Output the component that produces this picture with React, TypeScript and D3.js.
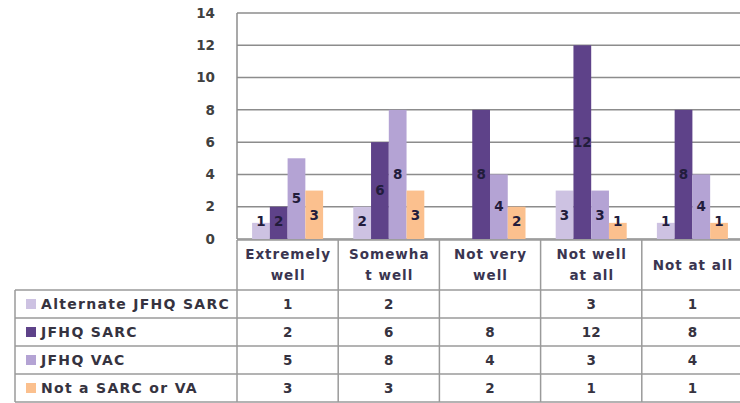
import React from "react";
import * as d3 from "d3";

const categories = ["Extremely well", "Somewhat well", "Not very well", "Not well at all", "Not at all"];
const headerLines = [["Extremely", "well"], ["Somewha", "t well"], ["Not very", "well"], ["Not well", "at all"], ["Not at all"]];
const seriesNames = ["Alternate JFHQ SARC", "JFHQ SARC", "JFHQ VAC", "Not a SARC or VA"];
const alternateJfhqSarc: (number | null)[] = [1, 2, null, 3, 1];
const jfhqSarc: (number | null)[] = [2, 6, 8, 12, 8];
const jfhqVac: (number | null)[] = [5, 8, 4, 3, 4];
const notSarcOrVa: (number | null)[] = [3, 3, 2, 1, 1];
const yTicks = [0, 2, 4, 6, 8, 10, 12, 14];

const seriesValues = [alternateJfhqSarc, jfhqSarc, jfhqVac, notSarcOrVa];
const colors = ["#cdc2e2", "#5e4289", "#b4a3d4", "#fbc08e"];

const FONT = "'DejaVu Sans', Lato, sans-serif";

export default function App() {
  const W = 740, H = 403;
  const plotLeft = 237, plotRight = 743;
  const yTop = 13, yBottom = 239;
  const legendLeft = 15;
  const headerTop = 240, headerBottom = 290, rowH = 28;

  const x0 = d3.scaleBand<string>().domain(categories).range([plotLeft, plotRight]).padding(0);
  const x1 = d3.scaleBand<string>().domain(seriesNames).range([0, x0.bandwidth()]).paddingInner(0).paddingOuter(0.85);
  const y = d3.scaleLinear().domain([0, 14]).range([yBottom, yTop]);

  const gridColor = "#8c8c8c";
  const tableColor = "#9a9a9a";
  const textColor = "#363340";

  const rowsBottom = headerBottom + rowH * seriesNames.length;
  const numFS = 13.5;
  const headFS = 13.5;
  const headLS = 1;
  const legFS = 14;
  const legLS = 1.3;

  return (
    <svg width={W} height={H} style={{ position: "absolute", left: 0, top: 0, background: "#fff" }} fontFamily={FONT}>
      <rect x={0} y={0} width={W} height={H} fill="#fff" />
      {/* gridlines */}
      {yTicks.map((t) => (
        <line key={"g" + t} x1={plotLeft} x2={W} y1={y(t)} y2={y(t)} stroke={gridColor} strokeWidth={1.5} />
      ))}
      {/* y tick labels */}
      {yTicks.map((t) => (
        <text key={"yt" + t} x={215} y={y(t)} dy="0.35em" textAnchor="end" fontSize={numFS} fontWeight="bold" fill="#404040">
          {t}
        </text>
      ))}
      {/* bars */}
      {categories.map((c, ci) => (
        <g key={"c" + ci} transform={`translate(${x0(c)},0)`}>
          {seriesNames.map((s, si) => {
            const v = seriesValues[si][ci];
            if (v == null) return null;
            const bx = x1(s)!;
            return (
              <rect key={"b" + si} x={bx} y={y(v)} width={x1.bandwidth()} height={y(0) - y(v)} fill={colors[si]} />
            );
          })}
          {seriesNames.map((s, si) => {
            const v = seriesValues[si][ci];
            if (v == null) return null;
            const bx = x1(s)! + x1.bandwidth() / 2;
            const cy = Math.min((y(v) + y(0)) / 2, y(0) - 18);
            return (
              <text key={"l" + si} x={bx} y={cy} dy="0.35em" textAnchor="middle" fontSize={numFS} fontWeight="bold" fill="#221c3c">
                {v}
              </text>
            );
          })}
        </g>
      ))}
      {/* left axis line */}
      <line x1={plotLeft} x2={plotLeft} y1={yTop} y2={yBottom} stroke={gridColor} strokeWidth={1.5} />

      {/* data table */}
      <line x1={plotLeft} x2={W} y1={headerTop} y2={headerTop} stroke={tableColor} strokeWidth={1.5} />
      {seriesNames.map((s, i) => (
        <line key={"rl" + i} x1={legendLeft} x2={W} y1={headerBottom + i * rowH} y2={headerBottom + i * rowH} stroke={tableColor} strokeWidth={1.5} />
      ))}
      <line x1={legendLeft} x2={W} y1={rowsBottom} y2={rowsBottom} stroke={tableColor} strokeWidth={1.5} />
      <line x1={legendLeft} x2={legendLeft} y1={headerBottom} y2={rowsBottom} stroke={tableColor} strokeWidth={1.5} />
      {categories.map((c, ci) => (
        <line key={"vl" + ci} x1={x0(c)!} x2={x0(c)!} y1={headerTop} y2={rowsBottom} stroke={tableColor} strokeWidth={1.5} />
      ))}
      {/* headers */}
      {categories.map((c, ci) => {
        const lines = headerLines[ci];
        const cx = x0(c)! + x0.bandwidth() / 2 + headLS / 2;
        const mid = (headerTop + headerBottom) / 2;
        const lh = 21;
        return (
          <text key={"h" + ci} x={cx} textAnchor="middle" fontSize={headFS} fontWeight="bold" letterSpacing={headLS} fill="#3a3550">
            {lines.map((ln, li) => (
              <tspan key={li} x={cx} y={mid + (li - (lines.length - 1) / 2) * lh} dy="0.35em">
                {ln}
              </tspan>
            ))}
          </text>
        );
      })}
      {/* legend rows */}
      {seriesNames.map((s, si) => {
        const cy = headerBottom + si * rowH + rowH / 2;
        return (
          <g key={"lg" + si}>
            <rect x={26} y={cy - 5} width={10} height={10} fill={colors[si]} />
            <text x={41} y={cy} dy="0.35em" fontSize={legFS} fontWeight="bold" letterSpacing={legLS} fill={textColor}>
              {s}
            </text>
            {categories.map((c, ci) => {
              const v = seriesValues[si][ci];
              return (
                <text key={"tv" + ci} x={x0(c)! + x0.bandwidth() / 2} y={cy} dy="0.35em" textAnchor="middle" fontSize={numFS} fontWeight="bold" fill={textColor}>
                  {v == null ? "" : v}
                </text>
              );
            })}
          </g>
        );
      })}
    </svg>
  );
}
